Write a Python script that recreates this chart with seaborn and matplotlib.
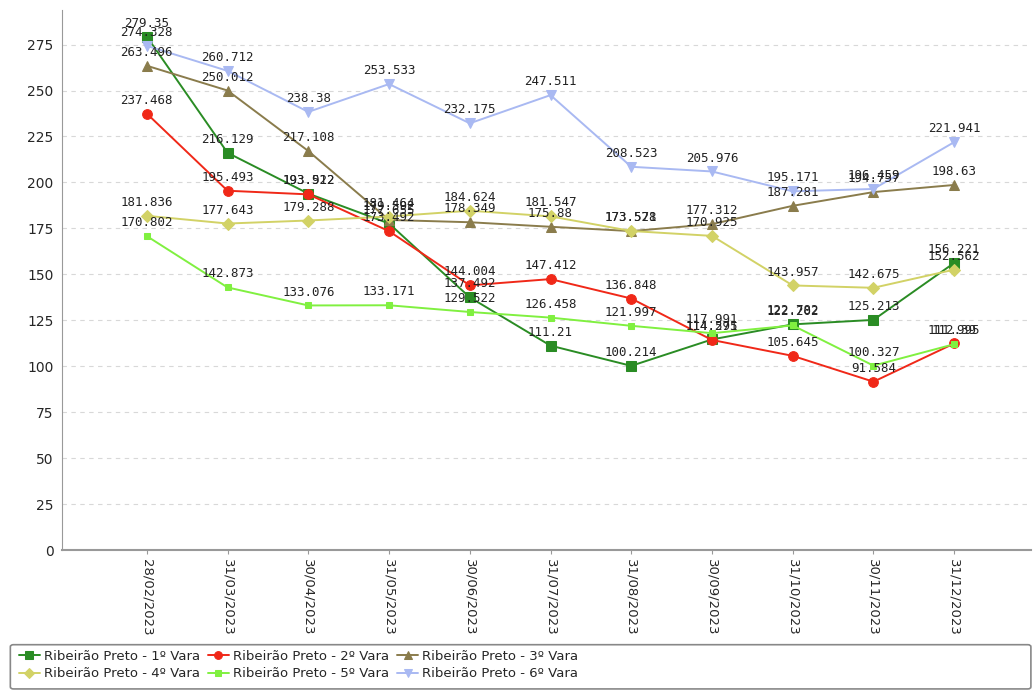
import matplotlib
matplotlib.use("Agg")
import matplotlib.pyplot as plt
from matplotlib.patches import FancyBboxPatch
import pandas as pd
import seaborn as sns

dates = ['28/02/2023', '31/03/2023', '30/04/2023', '31/05/2023', '30/06/2023', '31/07/2023',
         '31/08/2023', '30/09/2023', '31/10/2023', '30/11/2023', '31/12/2023']

vara1 = [279.35, 216.129, 193.922, 177.655, 137.492, 111.21, 100.214, 114.575, 122.782, 125.213, 156.221]
vara2 = [237.468, 195.493, 193.512, 173.492, 144.004, 147.412, 136.848, 114.291, 105.645, 91.584, 112.39]
vara3 = [263.496, 250.012, 217.108, 179.592, 178.349, 175.88, 173.528, 177.312, 187.281, 194.757, 198.63]
vara4 = [181.836, 177.643, 179.288, 181.464, 184.624, 181.547, 173.571, 170.925, 143.957, 142.675, 152.562]
vara5 = [170.802, 142.873, 133.076, 133.171, 129.522, 126.458, 121.997, 117.991, 122.202, 100.327, 111.995]
vara6 = [274.328, 260.712, 238.38, 253.533, 232.175, 247.511, 208.523, 205.976, 195.171, 196.459, 221.941]

names = ['Ribeirão Preto - 1º Vara', 'Ribeirão Preto - 2º Vara', 'Ribeirão Preto - 3º Vara',
         'Ribeirão Preto - 4º Vara', 'Ribeirão Preto - 5º Vara', 'Ribeirão Preto - 6º Vara']
series = [vara1, vara2, vara3, vara4, vara5, vara6]
colors = ['#2a8c24', '#f02818', '#8a7c4c', '#d2d266', '#80f040', '#a9b9f2']
markers = ['s', 'o', '^', 'D', 's', 'v']
msizes = [7, 7, 7, 6, 5, 7]

sns.set_style('white')
plt.rcParams['font.family'] = ['DejaVu Sans']

fig = plt.figure(figsize=(10.34, 6.91), dpi=100)
ax = fig.add_axes([0.060, 0.204, 0.937, 0.782])

x = list(range(len(dates)))
for name, vals, c, m, ms in zip(names, series, colors, markers, msizes):
    df = pd.DataFrame({'x': x, 'y': vals})
    sns.lineplot(data=df, x='x', y='y', ax=ax, color=c, marker=m, markersize=ms,
                 markeredgecolor=c, linewidth=1.4, label=name)
    for xi, v in zip(x, vals):
        ax.annotate(f'{v:g}', (xi, v), xytext=(0, 5), textcoords='offset points',
                    ha='center', va='bottom', fontsize=9, family='DejaVu Sans Mono',
                    color='#222222')

ax.set_xlim(-1.05, 10.95)
ax.set_ylim(0, 294)
ax.set_yticks(range(0, 276, 25))
ax.set_xticks(x)
ax.set_xticklabels(dates, rotation=270, fontsize=9.5)
ax.tick_params(axis='y', labelsize=10, length=0, pad=6)
ax.tick_params(axis='x', length=3, color='#999999', direction='out', bottom=True)
ax.set_xlabel('')
ax.set_ylabel('')
ax.yaxis.grid(True, linestyle=(0, (4, 4)), color='#d8d8d8', linewidth=0.8)
ax.xaxis.grid(False)
for side in ['top', 'right']:
    ax.spines[side].set_visible(False)
ax.spines['left'].set_color('#999999')
ax.spines['bottom'].set_color('#999999')
ax.spines['bottom'].set_linewidth(1.5)

handles, labels = ax.get_legend_handles_labels()
ax.get_legend().remove()
order = [0, 3, 1, 4, 2, 5]
handles = [handles[i] for i in order]
labels = [labels[i] for i in order]
box = FancyBboxPatch((0.010, 0.003), 0.987, 0.064, boxstyle='round,pad=0,rounding_size=0.003',
                     transform=fig.transFigure, facecolor='white', edgecolor='#888888',
                     linewidth=1.2)
fig.patches.append(box)
fig.legend(handles, labels, loc='lower left', bbox_to_anchor=(0.008, 0.0), ncol=3,
           frameon=False, fontsize=9.5, handlelength=1.6, handletextpad=0.3,
           columnspacing=0.6, labelspacing=0.35, borderpad=0.3, markerscale=0.8)

fig.savefig('out.png', dpi=100)
